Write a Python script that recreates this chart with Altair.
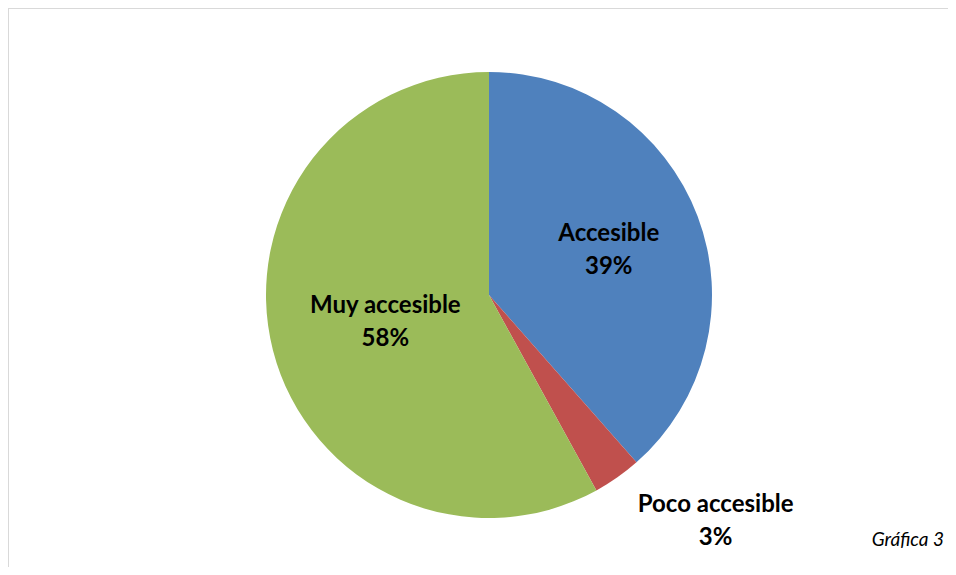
import math
import altair as alt
import pandas as pd

# ---- data ----
categories = ["Accesible", "Poco accesible", "Muy accesible"]
values = [38.5, 3.5, 58.0]
pct_labels = ["39%", "3%", "58%"]
colors = ["#4F81BD", "#C0504D", "#9BBB59"]

# ---- label placement (style) ----
label_radius = [128, 320, 107]
label_angle_shift_deg = [0, -10, 0]

W, H = 940, 559
CX, CY, R = 481, 287, 223

df = pd.DataFrame({"cat": categories, "value": values, "idx": range(len(values))})

total = sum(values)
cum = 0.0
rows = []
for i, (c, v, p) in enumerate(zip(categories, values, pct_labels)):
    mid = (cum + v / 2) / total * 2 * math.pi
    cum += v
    rows.append({
        "txt": c + "\n" + p,
        "theta": mid + math.radians(label_angle_shift_deg[i]),
        "r": label_radius[i],
    })
lab = pd.DataFrame(rows)

color_scale = alt.Scale(domain=categories, range=colors)

pie = alt.Chart(df).mark_arc(outerRadius=R).encode(
    theta=alt.Theta("value:Q", stack=True),
    color=alt.Color("cat:N", scale=color_scale, legend=None),
    order=alt.Order("idx:Q"),
    x=alt.value(CX),
    y=alt.value(CY),
)

labels = alt.Chart(lab).mark_text(
    font="Lato", fontWeight="bold", fontSize=24, lineBreak="\n",
    lineHeight=33, align="center", baseline="middle", dy=-16,
    color="#000000",
).encode(
    text="txt:N",
    theta=alt.Theta("theta:Q", scale=None, stack=None),
    radius=alt.Radius("r:Q", scale=None),
    x=alt.value(CX),
    y=alt.value(CY),
)

caption = alt.Chart(pd.DataFrame({"t": ["Gráfica 3"]})).mark_text(
    font="Lato", fontStyle="italic", fontSize=19, align="right",
    baseline="middle", color="#000000",
).encode(text="t:N", x=alt.value(936), y=alt.value(532))

frame_top = alt.Chart(pd.DataFrame({"a": [0]})).mark_rule(
    color="#d9d9d9", strokeWidth=2
).encode(x=alt.value(-2), x2=alt.value(W), y=alt.value(0))
frame_left = alt.Chart(pd.DataFrame({"a": [0]})).mark_rule(
    color="#d9d9d9", strokeWidth=2
).encode(x=alt.value(0), y=alt.value(0), y2=alt.value(H))

chart = alt.layer(frame_top, frame_left, pie, labels, caption).properties(
    width=W, height=H, padding=0, autosize=alt.AutoSizeParams(type="none"),
    background="white",
).configure_view(stroke=None)

chart.save("out.html", embed_options={"renderer": "svg", "actions": False})
